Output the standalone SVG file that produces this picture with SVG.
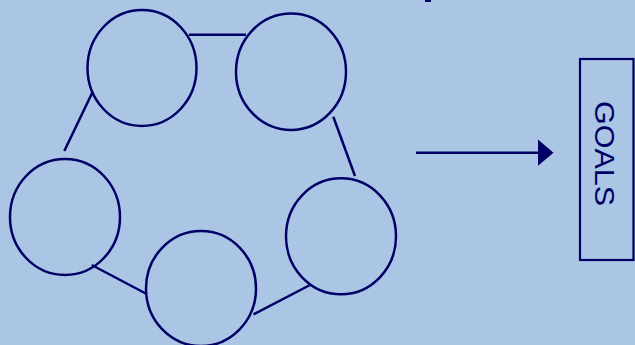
<svg xmlns="http://www.w3.org/2000/svg" width="635" height="345" viewBox="0 0 635 345">
<style>
.n{fill:none;stroke:#000066;stroke-width:2.5}
.c{stroke:#000066;stroke-width:2.5;fill:none}
.t{font-family:"Liberation Sans",Arial,sans-serif;font-size:28px;fill:#000066}
</style>
<rect width="635" height="345" fill="#AAC6E4"/>
<rect x="425" y="0" width="6" height="2" fill="#000066"/>
<g id="connectors">
<line class="c" x1="189" y1="34.7" x2="246" y2="34.7"/>
<line class="c" x1="92.7" y1="91.7" x2="64.3" y2="151"/>
<line class="c" x1="91.7" y1="265" x2="146.7" y2="294"/>
<line class="c" x1="253.5" y1="314.3" x2="310" y2="285"/>
<line class="c" x1="333.3" y1="116.7" x2="355" y2="176"/>
<line class="c" x1="416" y1="152.7" x2="540" y2="152.7"/>
<polygon points="538,139.5 553.5,152.7 538,165.8" fill="#000066"/>
</g>
<g id="node1"><ellipse class="n" cx="142" cy="68" rx="54.5" ry="58"/></g>
<g id="node2"><ellipse class="n" cx="291" cy="71.7" rx="55" ry="58.2"/></g>
<g id="node3"><ellipse class="n" cx="65" cy="217" rx="55" ry="58"/></g>
<g id="node4"><ellipse class="n" cx="201" cy="288.5" rx="55" ry="57.5"/></g>
<g id="node5"><ellipse class="n" cx="341" cy="236.3" rx="55" ry="58"/></g>
<g id="goals">
<rect x="580" y="59" width="53.5" height="201" fill="none" stroke="#000066" stroke-width="2.2"/>
<text class="t" transform="translate(595,101) rotate(90)" textLength="105" lengthAdjust="spacingAndGlyphs">GOALS</text>
</g>
</svg>
